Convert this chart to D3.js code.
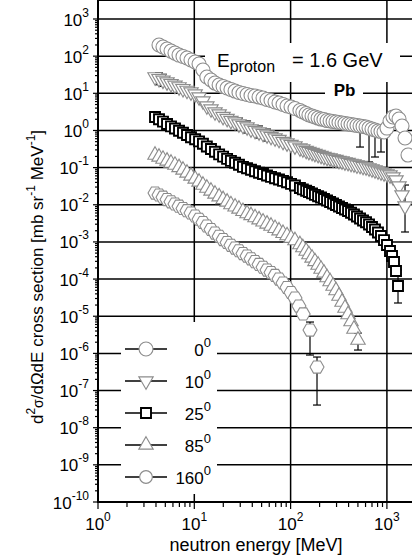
<!DOCTYPE html>
<html>
<head>
<meta charset="utf-8">
<script src="https://cdnjs.cloudflare.com/ajax/libs/d3/7.8.5/d3.min.js"></script>
<style>
  body { margin: 0; background: #fff; }
  svg { display: block; font-family: "Liberation Sans", Arial, Helvetica, sans-serif; }
</style>
</head>
<body>
<svg id="chart" width="412" height="555"></svg>
<script>
// p + Pb at 1.6 GeV, neutron double differential cross sections

var angles = ["0", "10", "25", "85", "160"];

// Energy bins [MeV]
var energyBins = [3.91, 4.30, 4.73, 5.21, 5.73, 6.30, 6.94, 7.63, 8.40, 9.24, 10.2, 11.2,
                  12.3, 13.5, 14.9, 16.4, 18.1, 19.9, 21.9, 24.0, 26.5, 29.1, 32.0, 35.3,
                  38.8, 42.7, 47.0, 51.7, 56.9, 62.6, 68.9, 75.8, 83.4, 91.8, 101, 111];
// ... and the dense high energy part
var energyHigh = [125, 134, 145, 155, 167, 179, 193, 207, 222, 239, 257, 276, 296, 318,
                  342, 367, 395, 424, 455, 489, 526, 565, 607, 652, 700, 752, 808, 868,
                  933, 1002, 1077, 1157, 1243, 1336, 1435, 1542, 1656];

var energy0   = energyBins.slice(1).concat(energyHigh)
  , energy10  = energyBins.concat(energyHigh.slice(0, 36))
  , energy25  = energyBins.concat(energyHigh.slice(0, 31), [1130, 1185, 1243, 1304])
  , energy85  = energyBins.concat(energyHigh.slice(0, 19), [501])
  , energy160 = energyBins.concat([122, 135, 159, 188])
  ;

// d2sigma/dOmega dE [mb/sr/MeV]
var sigma0 = [200, 176, 156, 137, 121, 107, 97.7, 89.1, 78.7, 69.6, 61.5, 42.4, 27.5, 22.8,
              18.9, 16.7, 15.2, 13.9, 12.7, 11.5, 10.5, 9.88, 9.29, 8.73, 8.46, 7.95, 7.47,
              6.81, 6.40, 5.83, 5.48, 5.00, 4.55, 4.28, 3.90,
              3.44, 3.14, 2.86, 2.61, 2.45, 2.30, 2.16, 2.03, 1.97, 1.85, 1.80, 1.74, 1.69,
              1.64, 1.59, 1.54, 1.49, 1.45, 1.40, 1.36, 1.32, 1.28, 1.24, 1.16, 1.09, 1.03,
              0.966, 0.937, 0.909, 1.16, 1.80, 2.30, 2.45, 2.03, 1.32, 0.626, 0.218];

var sigma10 = [27.5, 24.7, 22.4, 20.1, 18.1, 16.4, 14.8, 13.3, 12.0, 10.8, 9.57, 7.95, 6.21,
               4.55, 3.78, 3.14, 2.77, 2.37, 2.10, 1.85, 1.69, 1.49, 1.36, 1.24, 1.09, 0.997,
               0.909, 0.828, 0.755, 0.688, 0.626, 0.571, 0.504, 0.459, 0.419, 0.381,
               0.337, 0.317, 0.289, 0.271, 0.255, 0.239, 0.225, 0.212, 0.199, 0.187, 0.181,
               0.170, 0.165, 0.155, 0.150, 0.141, 0.137, 0.129, 0.125, 0.117, 0.114, 0.107,
               0.104, 0.0976, 0.0917, 0.0862, 0.0810, 0.0762, 0.0716, 0.0673, 0.0632, 0.0559,
               0.0464, 0.0320, 0.0183, 0.00925];

var sigma25 = [2.30, 2.00, 1.73, 1.49, 1.29, 1.13, 0.985, 0.865, 0.755, 0.658, 0.578, 0.507,
               0.437, 0.370, 0.317, 0.268, 0.227, 0.198, 0.172, 0.152, 0.135, 0.119, 0.105,
               0.0957, 0.0873, 0.0800, 0.0729, 0.0673, 0.0613, 0.0565, 0.0519, 0.0479, 0.0439,
               0.0402, 0.0366, 0.0330,
               0.0282, 0.0259, 0.0239, 0.0220, 0.0202, 0.0185, 0.0170, 0.0157, 0.0143, 0.0130,
               0.0119, 0.0108, 0.00985, 0.00897, 0.00818, 0.00745, 0.00679, 0.00607, 0.00546,
               0.00482, 0.00426, 0.00377, 0.00339, 0.00294, 0.00252, 0.00215, 0.00179, 0.00144,
               0.00112, 0.000826, 0.000569, 0.000417, 0.000288, 0.000165, 0.0000650];

var sigma85 = [0.218, 0.193, 0.170, 0.151, 0.133, 0.117, 0.101, 0.0862, 0.0716, 0.0595, 0.0494,
               0.0410, 0.0340, 0.0282, 0.0235, 0.0195, 0.0165, 0.0139, 0.0119, 0.0101, 0.00881,
               0.00769, 0.00667, 0.00581, 0.00514, 0.00451, 0.00396, 0.00348, 0.00305, 0.00268,
               0.00232, 0.00200, 0.00171, 0.00148, 0.00127, 0.00109,
               0.000851, 0.000707, 0.000569, 0.000458, 0.000369, 0.000297, 0.000239, 0.000186,
               0.000146, 0.000110, 0.0000859, 0.0000650, 0.0000492, 0.0000350, 0.0000241,
               0.0000166, 0.0000111, 0.00000720, 0.00000452, 0.00000229];

var sigma160 = [0.0207, 0.0183, 0.0160, 0.0138, 0.0120, 0.0105, 0.00914, 0.00793, 0.00692,
                0.00600, 0.00498, 0.00408, 0.00333, 0.00268, 0.00216, 0.00173, 0.00142,
                0.00116, 0.000964, 0.000810, 0.000685, 0.000579, 0.000487, 0.000417, 0.000351,
                0.000295, 0.000248, 0.000208, 0.000175, 0.000150, 0.000125, 0.000100,
                0.0000784, 0.0000593, 0.0000435, 0.0000309,
                0.0000188, 0.0000115, 0.00000425, 0.000000429];

// Visible error bars: [energy, low, high]
var errors0   = [[526, 0.358, 1.7], [652, 0.142, 1.5], [752, 0.193, 1.3], [868, 0.263, 1.2]];
var errors10  = [[4.30, 17.0, 36.0], [4.73, 15.4, 32.5], [29.1, 1.03, 2.16], [35.3, 0.855, 1.80],
                 [47.0, 0.627, 1.32], [56.9, 0.521, 1.09], [1542, 0.00185, 0.034]];
var errors25  = [[1304, 0.0000227, 0.000175]];
var errors85  = [[501, 0.00000123, 0.0000035]];
var errors160 = [[159, 0.000000903, 0.00000698], [188, 0.0000000407, 0.000000798]];

var xTickExp = [0, 1, 2, 3];
var yTickExp = d3.range(-10, 4);   // 10^-10 .. 10^3


var grey = "#8c8c8c";

// Flat-topped hexagon, d3 custom symbol type
var symbolHexagon = {
  draw: function (context, size) {
    var r = Math.sqrt(size / (1.5 * Math.sqrt(3)));
    for (var i = 0; i < 6; i += 1) {
      var a = Math.PI / 3 * i;
      if (i === 0) { context.moveTo(r * Math.cos(a), r * Math.sin(a)); }
      else { context.lineTo(r * Math.cos(a), r * Math.sin(a)); }
    }
    context.closePath();
  }
};

var series = [
  { angle: angles[0], energy: energy0,   sigma: sigma0,   errors: errors0,
    type: d3.symbolCircle,   size: 154, rotate: 0,   color: grey,   width: 1.1, legendType: d3.symbolCircle },
  { angle: angles[1], energy: energy10,  sigma: sigma10,  errors: errors10,
    type: d3.symbolTriangle, size: 90,  rotate: 180, color: grey,   width: 1.1, legendType: d3.symbolTriangle },
  { angle: angles[2], energy: energy25,  sigma: sigma25,  errors: errors25,
    type: d3.symbolSquare,   size: 100, rotate: 0,   color: "#000", width: 1.9, legendType: d3.symbolSquare },
  { angle: angles[3], energy: energy85,  sigma: sigma85,  errors: errors85,
    type: d3.symbolTriangle, size: 90,  rotate: 0,   color: grey,   width: 1.1, legendType: d3.symbolTriangle },
  { angle: angles[4], energy: energy160, sigma: sigma160, errors: errors160,
    type: symbolHexagon,     size: 127, rotate: 0,   color: grey,   width: 1.1, legendType: d3.symbolCircle }
];

var svg = d3.select("#chart");

var x = d3.scaleLog().domain([1, 1822]).range([98, 412])
  , y = d3.scaleLog().domain([1e-10, 1e3]).range([502, 19])
  , left = x.range()[0], right = x.range()[1]
  , top = y.range()[1], bottom = y.range()[0]
  ;

// Grid lines at every decade
var grid = svg.append("g").attr("stroke", "#000").attr("stroke-width", 1.5);
yTickExp.forEach(function (e) {
  if (e === -10) { return; }
  grid.append("line")
      .attr("x1", left).attr("x2", right)
      .attr("y1", y(Math.pow(10, e))).attr("y2", y(Math.pow(10, e)));
});
xTickExp.forEach(function (e) {
  if (e === 0) { return; }
  grid.append("line")
      .attr("x1", x(Math.pow(10, e))).attr("x2", x(Math.pow(10, e)))
      .attr("y1", top).attr("y2", bottom);
});

// White boxes behind legend and labels hide the grid
svg.append("rect").attr("x", 121).attr("y", 322).attr("width", 96).attr("height", 172).attr("fill", "#fff");
svg.append("rect").attr("x", 205).attr("y", 43).attr("width", 195).attr("height", 39).attr("fill", "#fff");
svg.append("rect").attr("x", 325).attr("y", 82).attr("width", 38).attr("height", 20).attr("fill", "#fff");

// Axes
var axes = svg.append("g").attr("stroke", "#000").attr("stroke-width", 2);
axes.append("line").attr("x1", left).attr("x2", left).attr("y1", top - 1).attr("y2", bottom + 1);
axes.append("line").attr("x1", left).attr("x2", right).attr("y1", bottom).attr("y2", bottom);
axes.append("line").attr("x1", left).attr("x2", right).attr("y1", top).attr("y2", top);

var ticks = svg.append("g").attr("stroke", "#000").attr("stroke-width", 1.2);
yTickExp.forEach(function (e) {
  var v = Math.pow(10, e);
  ticks.append("line").attr("x1", left - 5).attr("x2", left).attr("y1", y(v)).attr("y2", y(v));
  if (e === 3) { return; }
  for (var m = 2; m <= 9; m += 1) {
    ticks.append("line").attr("x1", left - 3).attr("x2", left)
         .attr("y1", y(m * v)).attr("y2", y(m * v));
  }
});
xTickExp.forEach(function (e) {
  var v = Math.pow(10, e);
  ticks.append("line").attr("x1", x(v)).attr("x2", x(v)).attr("y1", bottom).attr("y2", bottom + 7);
  for (var m = 2; m <= 9; m += 1) {
    if (m * v > x.domain()[1]) { break; }
    ticks.append("line").attr("x1", x(m * v)).attr("x2", x(m * v))
         .attr("y1", bottom).attr("y2", bottom + 5);
  }
});

// "10" with a raised exponent
function powerLabel (sel, base, exp, baseSize, expSize, raise) {
  sel.append("tspan").attr("font-size", baseSize).text(base);
  sel.append("tspan").attr("font-size", expSize).attr("dy", -raise).text(exp);
}

yTickExp.forEach(function (e) {
  var t = svg.append("text")
             .attr("x", 89)
             .attr("y", y(Math.pow(10, e)) + 6.5)
             .attr("text-anchor", "end");
  powerLabel(t, "10", e, 17, 12, 9);
});
xTickExp.forEach(function (e) {
  var t = svg.append("text")
             .attr("x", x(Math.pow(10, e)))
             .attr("y", 530)
             .attr("text-anchor", "middle");
  powerLabel(t, "10", e, 17, 12, 9);
});

// Axis titles
svg.append("text")
   .attr("x", 256).attr("y", 551)
   .attr("text-anchor", "middle")
   .attr("font-size", 18)
   .text("neutron energy [MeV]");

var yTitle = svg.append("text")
                .attr("transform", "translate(43,277) rotate(-90)")
                .attr("text-anchor", "middle")
                .attr("font-size", 17);
yTitle.append("tspan").text("d");
yTitle.append("tspan").attr("font-size", 12).attr("dy", -8).text("2");
yTitle.append("tspan").attr("font-size", 14).attr("dy", 8).text("σ");
yTitle.append("tspan").text("/dΩdE cross section [mb sr");
yTitle.append("tspan").attr("font-size", 12).attr("dy", -8).text("-1");
yTitle.append("tspan").attr("dy", 8).text(" MeV");
yTitle.append("tspan").attr("font-size", 12).attr("dy", -8).text("-1");
yTitle.append("tspan").attr("dy", 8).text("]");

// Data: error bars first, markers on top
function marker (s, type) {
  return d3.symbol().type(type).size(s.size)();
}

series.forEach(function (s) {
  var g = svg.append("g");

  s.errors.forEach(function (d) {
    var cx = x(d[0]);
    g.append("line").attr("x1", cx).attr("x2", cx).attr("y1", y(d[1])).attr("y2", y(d[2]))
     .attr("stroke", "#000").attr("stroke-width", 1.2);
    g.append("line").attr("x1", cx - 4).attr("x2", cx + 4).attr("y1", y(d[1])).attr("y2", y(d[1]))
     .attr("stroke", "#000").attr("stroke-width", 1.2);
    g.append("line").attr("x1", cx - 4).attr("x2", cx + 4).attr("y1", y(d[2])).attr("y2", y(d[2]))
     .attr("stroke", "#000").attr("stroke-width", 1.2);
  });

  g.selectAll("path")
   .data(d3.zip(s.energy, s.sigma))
   .enter()
   .append("path")
   .attr("d", marker(s, s.type))
   .attr("transform", function (d) {
     return "translate(" + x(d[0]) + "," + y(d[1]) + ") rotate(" + s.rotate + ")";
   })
   .attr("fill", "#fff")
   .attr("stroke", s.color)
   .attr("stroke-width", s.width);
});

// Legend
var legendY = [349, 381, 413, 445, 477];
series.forEach(function (s, i) {
  var ly = legendY[i];
  svg.append("line")
     .attr("x1", 125).attr("x2", 167).attr("y1", ly).attr("y2", ly)
     .attr("stroke", "#000").attr("stroke-width", 1.3);
  svg.append("path")
     .attr("d", marker(s, s.legendType))
     .attr("transform", "translate(146," + ly + ") rotate(" + s.rotate + ")")
     .attr("fill", "#fff")
     .attr("stroke", s.color)
     .attr("stroke-width", s.width);
  var t = svg.append("text")
             .attr("x", 211).attr("y", ly + 7)
             .attr("text-anchor", "end");
  powerLabel(t, s.angle, "0", 17, 13, 9);
});

// Beam energy and target
var eText = svg.append("text").attr("x", 217).attr("y", 67).attr("font-size", 19);
eText.append("tspan").text("E");
eText.append("tspan").attr("font-size", 16).attr("dy", 5).text("proton");
svg.append("text").attr("x", 292).attr("y", 67).attr("font-size", 20).text("= 1.6 GeV");

svg.append("text")
   .attr("x", 344.5).attr("y", 96)
   .attr("text-anchor", "middle")
   .attr("font-size", 17)
   .attr("font-weight", "bold")
   .text("Pb");
</script>
</body>
</html>
